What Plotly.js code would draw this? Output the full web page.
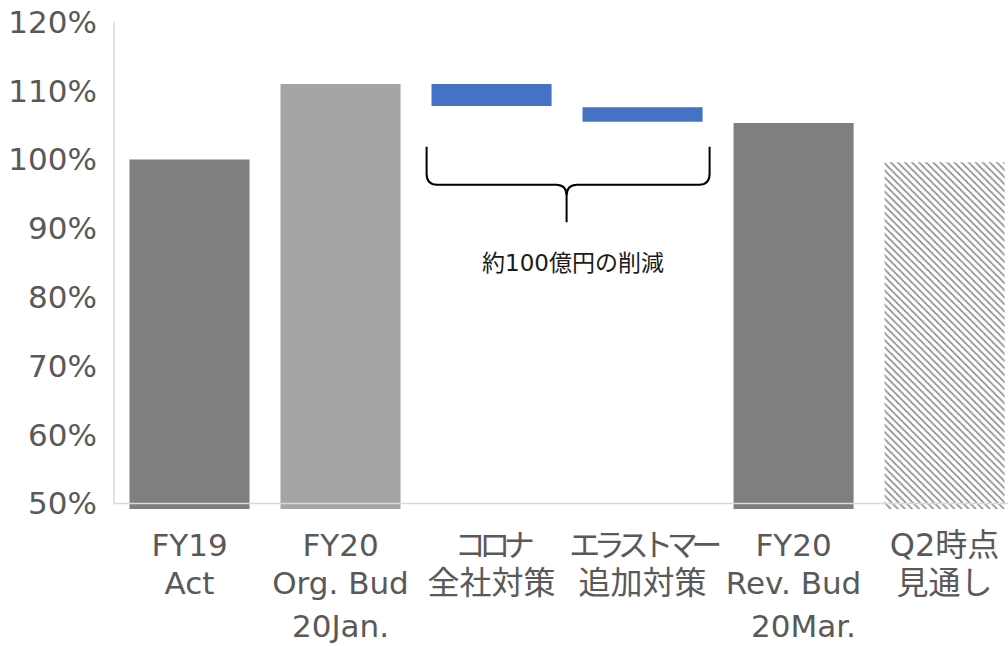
<!DOCTYPE html>
<html>
<head>
<meta charset="utf-8">
<script src="https://cdn.plot.ly/plotly-3.0.1.min.js"></script>
<style>html,body{margin:0;padding:0;background:#fff;}#chart{width:1008px;height:646px;}</style>
</head>
<body>
<div id="chart"></div>
<script>
// ---- data ----
const categories = ["FY19 Act", "FY20 Org. Bud", "コロナ全社対策", "エラストマー追加対策", "FY20 Rev. Bud", "Q2時点見通し"];
const labelLine1 = ["FY19", "FY20", "コロナ", "エラストマー", "FY20", "Q2時点"];
const labelLine2 = ["Act", "Org. Bud", "全社対策", "追加対策", "Rev. Bud", "見通し"];
const labelLine3 = ["", "20Jan.", "", "", "20Mar.", ""];
const totals = [100, 111, null, null, 105.3, null];
const stepTop = [null, null, 111, 107.6, null, null];
const stepBottom = [null, null, 107.8, 105.5, null, null];
const outlook = [null, null, null, null, null, 99.6];
const yTicks = [50, 60, 70, 80, 90, 100, 110, 120];
const yTickLabels = yTicks.map(v => v + "%");
const braceText = "約100億円の削減";

// ---- styling helpers ----
const xs = categories.map((c, i) => i);
const line3Pos = [0, 1, 0, 0, 4.066, 0];
const barW = 0.795;
const FONT = "DejaVu Sans, Noto Sans CJK JP, sans-serif";
const GRAY = "#595959";
const isKana = s => /^[\u30A0-\u30FF]+$/.test(s);
const hasCJK = s => /[\u3000-\u9FFF]/.test(s);
function styleLine(s) {
  if (isKana(s)) return `<span style="font-size:31px;letter-spacing:-6.5px">${s}</span>`;
  if (hasCJK(s)) return `<span style="font-size:32px">${s}</span>`;
  return `<span style="font-size:31px">${s}</span>`;
}
const tickText = labelLine1.map((a, i) => styleLine(a) + "<br>" + styleLine(labelLine2[i]));

const traces = [
  {
    type: "bar", x: xs, y: totals, width: barW,
    marker: {color: ["#7f7f7f", "#a5a5a5", "#7f7f7f", "#7f7f7f", "#7f7f7f", "#7f7f7f"], line: {width: 0}},
    hoverinfo: "skip"
  },
  {
    type: "bar", x: xs,
    y: stepTop.map((t, i) => t == null ? null : t - stepBottom[i]),
    base: stepBottom, width: barW,
    marker: {color: "#4472c4", line: {width: 0}},
    hoverinfo: "skip"
  },
  {
    type: "bar", x: xs, y: outlook, width: barW,
    marker: {color: "#ffffff", line: {width: 0},
      pattern: {shape: "\\", fgcolor: "#8c8c8c", bgcolor: "#ffffff", size: 5, solidity: 0.33}},
    hoverinfo: "skip"
  }
];

// brace geometry in data coords
const bx0 = 1.570, bx1 = 3.444, bxm = 2.497;
const byTop = 101.85, byMid = 96.33, byTip = 90.9;
const dx = 0.07, dy = 1.6;
const bracePath =
  `M ${bx0} ${byTop} L ${bx0} ${byMid + dy} Q ${bx0} ${byMid} ${bx0 + dx} ${byMid} ` +
  `L ${bxm - dx} ${byMid} Q ${bxm} ${byMid} ${bxm} ${byMid - dy} L ${bxm} ${byTip} ` +
  `M ${bxm} ${byMid - dy} Q ${bxm} ${byMid} ${bxm + dx} ${byMid} ` +
  `L ${bx1 - dx} ${byMid} Q ${bx1} ${byMid} ${bx1} ${byMid + dy} L ${bx1} ${byTop}`;

const annotations = [
  {x: 2.54, y: 85.0, xref: "x", yref: "y", text: braceText, showarrow: false,
   font: {family: FONT, size: 23, color: "#1a1a1a"}, xanchor: "center", yanchor: "middle"}
];
labelLine3.forEach((s, i) => {
  if (s) annotations.push({x: line3Pos[i], y: -0.241, xref: "x", yref: "paper", text: s,
    showarrow: false, font: {family: FONT, size: 31, color: GRAY}, xanchor: "center", yanchor: "middle"});
});

const layout = {
  width: 1008, height: 646,
  margin: {l: 114, r: 0, t: 22, b: 136.5, pad: 0},
  paper_bgcolor: "#ffffff", plot_bgcolor: "#ffffff",
  showlegend: false, barmode: "overlay",
  font: {family: FONT, color: GRAY},
  xaxis: {range: [-0.5, 5.42], tickmode: "array", tickvals: xs, ticktext: tickText,
    tickangle: 0, showgrid: false, zeroline: false, showline: false, ticks: "", ticklabelstandoff: 17,
    tickfont: {family: FONT, size: 29, color: GRAY}, fixedrange: true},
  yaxis: {range: [49.2, 120], tickmode: "array", tickvals: yTicks, ticktext: yTickLabels,
    showgrid: false, zeroline: false, showline: false, ticks: "", ticklabelstandoff: 16,
    tickfont: {family: FONT, size: 31, color: GRAY}, fixedrange: true},
  shapes: [
    {type: "line", xref: "paper", yref: "y", x0: 0, x1: 0, y0: 50, y1: 120,
     line: {color: "#d9d9d9", width: 1.5}, layer: "above"},
    {type: "line", xref: "paper", yref: "y", x0: 0, x1: 1, y0: 50, y1: 50,
     line: {color: "#d9d9d9", width: 1.5}, layer: "above"},
    {type: "path", xref: "x", yref: "y", path: bracePath,
     line: {color: "#000000", width: 2}, layer: "above"}
  ],
  annotations: annotations
};

Plotly.newPlot("chart", traces, layout, {displayModeBar: false, staticPlot: true});
</script>
</body>
</html>
